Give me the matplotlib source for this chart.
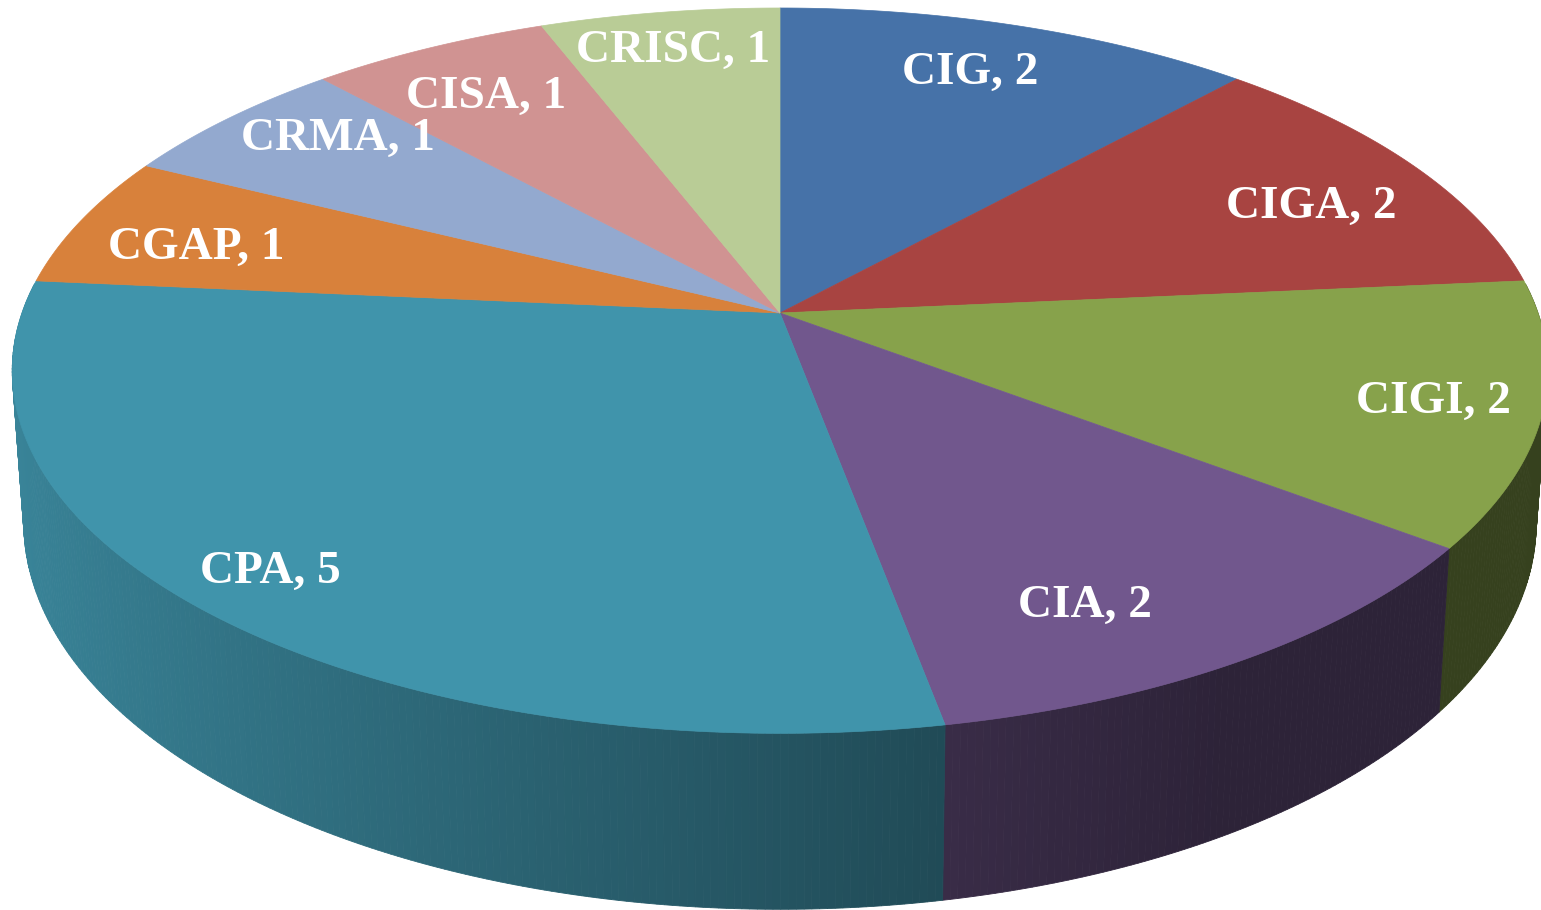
import numpy as np
import matplotlib
matplotlib.use("Agg")
import matplotlib.pyplot as plt
from matplotlib.patches import Polygon

# ---- data ----
labels = ["CIG", "CIGA", "CIGI", "CIA", "CPA", "CGAP", "CRMA", "CISA", "CRISC"]
values = [2, 2, 2, 2, 5, 1, 1, 1, 1]
colors = ["#4672A8", "#A84441", "#87A24B", "#71578D", "#4094AB",
          "#D8813B", "#93A9CF", "#D09392", "#B9CC96"]

# ---- layout of labels (radius fraction and angular nudge per slice) ----
label_r = [0.828, 0.808, 0.862, 0.804, 0.883, 0.821, 0.840, 0.818, 0.873]
label_dang = [-1.3, 2.3, -0.5, 5.5, 0.7, -1.5, 3.9, 0.0, 0.0]

# ---- geometry of the perspective 3D pie (pixel space) ----
CX, CY = 780.0, 313.0      # apex of the top face
A, B = 758.0, 353.5        # horizontal / vertical radii scale
K = 0.159                  # perspective strength
H = 148.0                  # side depth
CONV = 0.985               # convergence of vertical edges


def proj(theta_deg, r=1.0, depth=0.0):
    t = np.radians(theta_deg)
    u = r * np.sin(t)
    v = -r * np.cos(t)
    s = 1.0 / (1.0 - K * v)
    x = CX + A * u * s
    y = CY + B * v * s
    if depth:
        x = CX + (x - CX) * CONV
        y = y + depth * s
    return x, y


def shade(u):
    return 0.4 + 0.5 * np.clip((0.5 - u) / 1.5, 0, 1)


fig = plt.figure(figsize=(15.41, 9.10), dpi=100)
ax = fig.add_axes([0, 0, 1, 1])
ax.set_xlim(0, 1541)
ax.set_ylim(910, 0)
ax.axis("off")

total = float(sum(values))
starts = np.concatenate([[0.0], np.cumsum(values)[:-1]]) / total * 360.0
spans = np.array(values) / total * 360.0

# ---- side faces (strips) ----
strips = []
for st, sp, col in zip(starts, spans, colors):
    n = max(int(sp / 0.5), 2)
    edges = np.linspace(st, st + sp, n + 1)
    base = np.array(matplotlib.colors.to_rgb(col))
    for a, b in zip(edges[:-1], edges[1:]):
        m = 0.5 * (a + b)
        vm = -np.cos(np.radians(m))
        if vm < -0.08:
            continue
        um = np.sin(np.radians(m))
        c = np.clip(base * shade(um), 0, 1)
        xa, ya = proj(a)
        xb, yb = proj(b)
        xa2, ya2 = proj(a, depth=H)
        xb2, yb2 = proj(b, depth=H)
        strips.append((vm, [(xa, ya), (xb, yb), (xb2, yb2), (xa2, ya2)], c))

strips.sort(key=lambda s: s[0])
for vm, pts, c in strips:
    ax.add_patch(Polygon(pts, closed=True, facecolor=c, edgecolor=c,
                         lw=0.6, zorder=1))

# ---- top faces ----
for st, sp, col in zip(starts, spans, colors):
    th = np.linspace(st, st + sp, 200)
    xs, ys = proj(th)
    pts = [(CX, CY)] + list(zip(xs, ys))
    ax.add_patch(Polygon(pts, closed=True, facecolor=col, edgecolor=col,
                         lw=0.5, zorder=2))

# ---- labels ----
for st, sp, lab, val, lr, da in zip(starts, spans, labels, values,
                                    label_r, label_dang):
    x, y = proj(st + sp / 2.0 + da, r=lr)
    ax.text(x, y, f"{lab}, {val}", ha="center", va="center_baseline",
            color="white", fontsize=34, fontweight="bold",
            family="Liberation Serif", zorder=3)

fig.savefig("out.png", dpi=100)
